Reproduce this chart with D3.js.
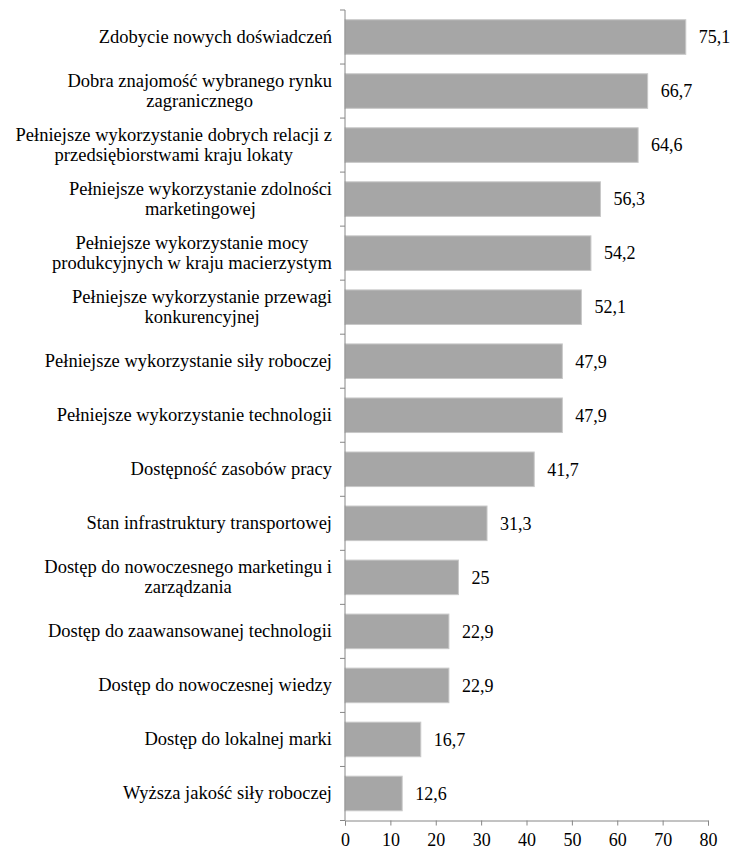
<!DOCTYPE html>
<html>
<head>
<meta charset="utf-8">
<script src="https://cdn.jsdelivr.net/npm/d3@7"></script>
<style>
  body { margin: 0; background: #fff; }
  .lab { display: flex; justify-content: flex-end; align-items: center; height: 100%;
         font-family: "Liberation Serif"; font-size: 18.5px; line-height: 20px; color: #000; }
  .lab div { text-align: center; white-space: nowrap; }
</style>
</head>
<body>
<svg id="chart" width="733" height="852"></svg>
<script>
const categories = [
  ["Zdobycie nowych doświadczeń"],
  ["Dobra znajomość wybranego rynku", "zagranicznego"],
  ["Pełniejsze wykorzystanie dobrych relacji z", "przedsiębiorstwami kraju lokaty"],
  ["Pełniejsze wykorzystanie zdolności", "marketingowej"],
  ["Pełniejsze wykorzystanie mocy", "produkcyjnych w kraju macierzystym"],
  ["Pełniejsze wykorzystanie przewagi", "konkurencyjnej"],
  ["Pełniejsze wykorzystanie siły roboczej"],
  ["Pełniejsze wykorzystanie technologii"],
  ["Dostępność zasobów pracy"],
  ["Stan infrastruktury transportowej"],
  ["Dostęp do nowoczesnego marketingu i", "zarządzania"],
  ["Dostęp do zaawansowanej technologii"],
  ["Dostęp do nowoczesnej wiedzy"],
  ["Dostęp do lokalnej marki"],
  ["Wyższa jakość siły roboczej"]
];
const values = [75.1, 66.7, 64.6, 56.3, 54.2, 52.1, 47.9, 47.9, 41.7, 31.3, 25, 22.9, 22.9, 16.7, 12.6];
const valueLabels = ["75,1", "66,7", "64,6", "56,3", "54,2", "52,1", "47,9", "47,9", "41,7", "31,3", "25", "22,9", "22,9", "16,7", "12,6"];
const xTicks = [0, 10, 20, 30, 40, 50, 60, 70, 80];

const svg = d3.select("#chart");
const axisColor = "#868686";
const font = "Liberation Serif";

// warm up the serif face with a throwaway text at an unused size
const warm = svg.append("text").attr("font-family", font).attr("font-size", 11)
  .text("Zdobycie nowych doświadczeń 75,1 ęąłżź");
warm.node().getComputedTextLength();
warm.remove();

const x = d3.scaleLinear().domain([0, 80]).range([345, 708]);
const y = d3.scaleBand().domain(d3.range(values.length)).range([10, 820.5]).paddingInner(0.36).paddingOuter(0.18);
const band = d3.scaleBand().domain(d3.range(values.length)).range([10, 820.5]);

// bars
svg.append("g").selectAll("rect")
  .data(values)
  .join("rect")
  .attr("x", x(0))
  .attr("y", (d, i) => y(i))
  .attr("width", d => x(d) - x(0))
  .attr("height", y.bandwidth())
  .attr("fill", "#a6a6a6")
  .attr("stroke", "#c8c8c8")
  .attr("stroke-width", 1);

// value labels
svg.append("g").selectAll("text")
  .data(values)
  .join("text")
  .attr("font-family", font)
  .attr("font-size", 18)
  .attr("x", d => x(d) + 13)
  .attr("y", (d, i) => y(i) + y.bandwidth() / 2)
  .attr("dy", "0.35em")
  .text((d, i) => valueLabels[i]);

// x axis
const xAxis = svg.append("g")
  .attr("transform", `translate(0, ${band.range()[1]})`)
  .call(d3.axisBottom(x).tickValues(xTicks).tickSize(5).tickPadding(8));
xAxis.select(".domain").attr("stroke", axisColor);
xAxis.selectAll(".tick line").attr("stroke", axisColor);
xAxis.selectAll(".tick text")
  .attr("font-family", font)
  .attr("font-size", 18)
  .attr("fill", "#000");

// y axis line with ticks at band boundaries
const yAxisG = svg.append("g");
yAxisG.append("line")
  .attr("x1", x(0)).attr("x2", x(0))
  .attr("y1", band.range()[0]).attr("y2", band.range()[1])
  .attr("stroke", axisColor);
yAxisG.selectAll("line.tk")
  .data(d3.range(values.length + 1))
  .join("line")
  .attr("class", "tk")
  .attr("x1", x(0) - 5).attr("x2", x(0))
  .attr("y1", i => band.range()[0] + i * band.step())
  .attr("y2", i => band.range()[0] + i * band.step())
  .attr("stroke", axisColor);

// category labels: block right-aligned, lines centred inside the block
const labelRight = 332;
svg.append("g").selectAll("foreignObject")
  .data(categories)
  .join("foreignObject")
  .attr("x", 0)
  .attr("y", (d, i) => y(i) + y.bandwidth() / 2 - 26)
  .attr("width", labelRight)
  .attr("height", 52)
  .append("xhtml:div")
  .attr("class", "lab")
  .append("xhtml:div")
  .html(d => d.join("<br>"));
</script>
</body>
</html>
